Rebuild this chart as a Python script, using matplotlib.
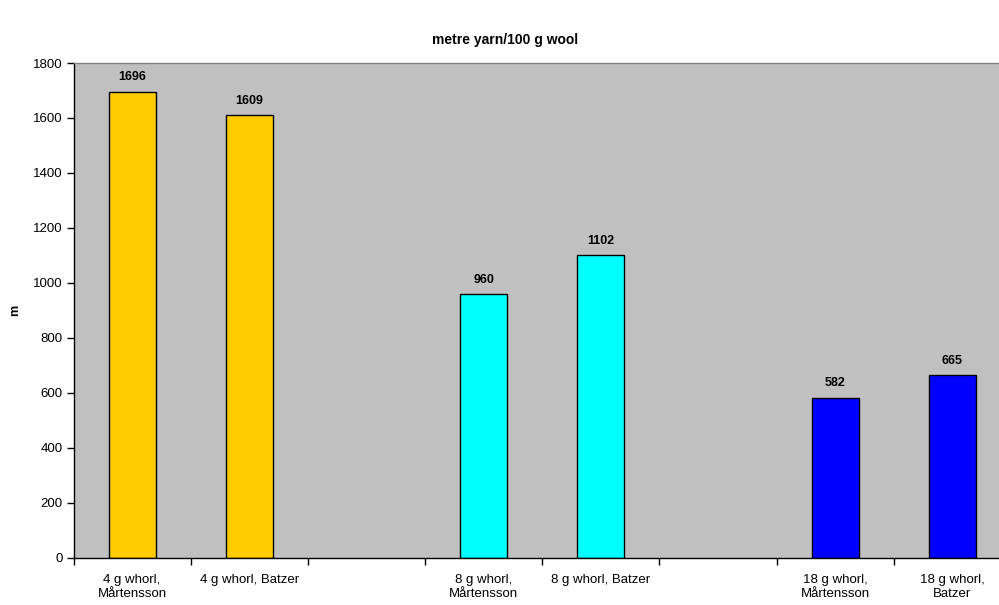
import matplotlib
matplotlib.use("Agg")
import matplotlib.pyplot as plt
from matplotlib.ticker import FixedLocator, NullFormatter

plt.rcParams['font.family'] = ['Liberation Sans', 'DejaVu Sans']

categories = ["4 g whorl,\nMårtensson", "4 g whorl, Batzer", "",
              "8 g whorl,\nMårtensson", "8 g whorl, Batzer", "",
              "18 g whorl,\nMårtensson", "18 g whorl,\nBatzer"]
values = [1696, 1609, None, 960, 1102, None, 582, 665]
colors = ["#FFCC00", "#FFCC00", None, "#00FFFF", "#00FFFF", None, "#0000FF", "#0000FF"]
yticks = [0, 200, 400, 600, 800, 1000, 1200, 1400, 1600, 1800]

W, H = 999, 605
fig = plt.figure(figsize=(W / 100, H / 100), dpi=100)
left, right, top, bottom = 73.5, 1011.0, 63.0, 557.5
ax = fig.add_axes([left / W, 1 - bottom / H, (right - left) / W, (bottom - top) / H])
ax.set_facecolor("#C0C0C0")

xs = list(range(len(categories)))
for x, v, c in zip(xs, values, colors):
    if v is None:
        continue
    ax.bar(x, v, width=0.4, color=c, edgecolor="black", linewidth=1.0, zorder=2)
    ax.text(x, v + 30, f"{v}", ha="center", va="bottom", fontsize=9,
            fontweight="bold", color="black")

ax.set_xlim(-0.5, len(categories) - 0.5)
ax.set_ylim(0, 1800)
ax.set_yticks(yticks)
ax.tick_params(axis="y", labelsize=9.5, length=5, width=1, direction="out", pad=3)

ax.xaxis.set_major_locator(FixedLocator([x - 0.5 for x in xs] + [len(xs) - 0.5]))
ax.xaxis.set_major_formatter(NullFormatter())
ax.xaxis.set_minor_locator(FixedLocator(xs))
ax.set_xticklabels(categories, minor=True)
ax.tick_params(axis="x", which="major", length=5, width=1, direction="out", color="black")
ax.tick_params(axis="x", which="minor", length=0, labelsize=9.5, pad=12)
for lab in ax.get_xticklabels(minor=True):
    lab.set_verticalalignment("top")
    lab.set_multialignment("center")
    lab.set_linespacing(1.25)

for s in ["left", "bottom"]:
    ax.spines[s].set_color("black")
    ax.spines[s].set_linewidth(1.0)
for s in ["top", "right"]:
    ax.spines[s].set_color("#808080")
    ax.spines[s].set_linewidth(1.0)

ax.set_ylabel("m", fontsize=9, fontweight="bold")
ax.yaxis.set_label_coords((21 - left) / (right - left), 0.5)
fig.text(505 / W, 1 - 40 / H, "metre yarn/100 g wool", ha="center", va="center",
         fontsize=10, fontweight="bold")

fig.savefig("out.png", dpi=100, facecolor="white")
